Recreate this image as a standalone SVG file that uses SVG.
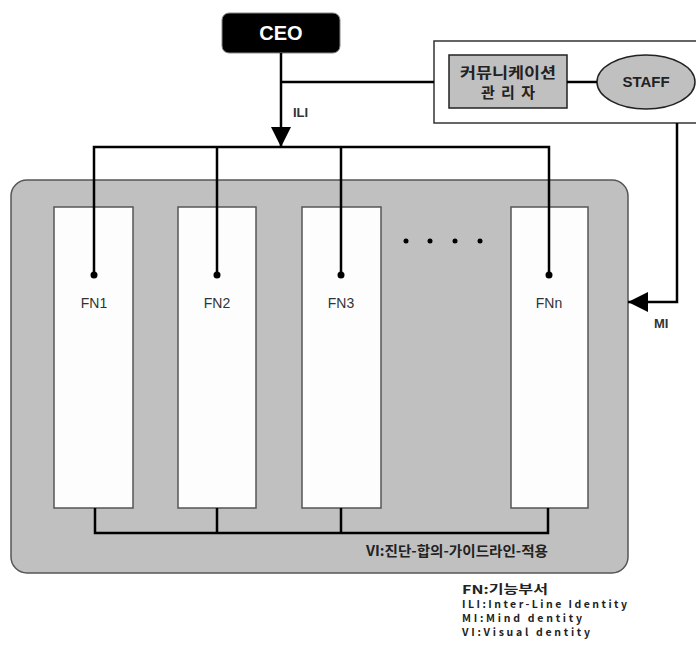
<svg xmlns="http://www.w3.org/2000/svg" width="696" height="650" viewBox="0 0 696 650">
<defs>
<style>
.lat{font-family:"Liberation Sans",Arial,sans-serif;}
.kr{font-family:"Noto Sans CJK KR","Liberation Sans",sans-serif;}
.fn{fill:#fdfdfd;stroke:#555;stroke-width:1.5;}
.fnl{font-size:14px;fill:#333;text-anchor:middle;}
.wire{fill:none;stroke:#000;stroke-width:2.5;}
.legend{font-size:10.5px;fill:#222;font-weight:bold;}
</style>
<marker id="arr" viewBox="0 0 10 10" refX="10" refY="5" markerWidth="20" markerHeight="20" markerUnits="userSpaceOnUse" orient="auto">
<path d="M0,0 L10,5 L0,10 Z" fill="#000"/>
</marker>
</defs>
<rect width="696" height="650" fill="#fff"/>
<g id="panel">
<rect x="11" y="180" width="617" height="393" rx="16" fill="#c0c0c0" stroke="#555" stroke-width="1.5"/>
<text class="kr" x="548" y="556" font-size="14" font-weight="bold" fill="#222" text-anchor="end" textLength="182" lengthAdjust="spacingAndGlyphs">VI:진단-합의-가이드라인-적용</text>
<g fill="#000"><circle cx="406" cy="241" r="2.5"/><circle cx="430" cy="241" r="2.5"/><circle cx="455" cy="241" r="2.5"/><circle cx="480" cy="241" r="2.5"/></g>
</g>
<g id="fn1"><rect class="fn" x="54" y="207" width="79" height="301"/><text class="lat fnl" x="94" y="308">FN1</text></g>
<g id="fn2"><rect class="fn" x="178" y="207" width="78" height="301"/><text class="lat fnl" x="217" y="308">FN2</text></g>
<g id="fn3"><rect class="fn" x="302" y="207" width="79" height="301"/><text class="lat fnl" x="341" y="308">FN3</text></g>
<g id="fnn"><rect class="fn" x="511" y="207" width="77" height="301"/><text class="lat fnl" x="549" y="308">FNn</text></g>
<g id="staffbox">
<rect x="434" y="41" width="270" height="82" fill="#fff" stroke="#333" stroke-width="1.5"/>
</g>
<g id="comm">
<rect x="449" y="55" width="118" height="53" fill="#c0c0c0" stroke="#222" stroke-width="1.5"/>
<text class="kr" x="508" y="78" font-size="15" font-weight="bold" fill="#222" text-anchor="middle" textLength="96" lengthAdjust="spacingAndGlyphs">커뮤니케이션</text>
<text class="kr" x="508" y="98" font-size="15" font-weight="bold" fill="#222" text-anchor="middle" textLength="54" lengthAdjust="spacing">관리자</text>
</g>
<g id="staff">
<ellipse cx="646" cy="82" rx="49" ry="27" fill="#c0c0c0" stroke="#222" stroke-width="1.5"/>
<text class="lat" x="646" y="87" font-size="15" font-weight="bold" fill="#222" text-anchor="middle">STAFF</text>
</g>
<g id="ceo">
<rect x="222" y="13" width="118" height="40" rx="7" fill="#000" stroke="#888" stroke-width="1"/>
<text class="lat" x="281" y="40" font-size="20" font-weight="bold" fill="#fff" text-anchor="middle">CEO</text>
</g>
<g id="connectors">
<path class="wire" d="M281,53 V147" marker-end="url(#arr)"/>
<path class="wire" d="M281,82 H434"/>
<path class="wire" d="M567,82 H597" stroke-width="2"/>
<path class="wire" d="M94,275 V147 H549 V275 M217,147 V275 M341,147 V275"/>
<g fill="#000"><circle cx="94" cy="275" r="3.5"/><circle cx="217" cy="275" r="3.5"/><circle cx="341" cy="275" r="3.5"/><circle cx="549" cy="275" r="3.5"/></g>
<path class="wire" d="M95,508 V533 H548 V508 M217,508 V533 M341,508 V533"/>
<path class="wire" d="M677,123 V302 H628" marker-end="url(#arr)"/>
<text class="lat" x="293" y="117" font-size="13" font-weight="bold" fill="#333">ILI</text>
<text class="lat" x="654" y="328" font-size="13" font-weight="bold" fill="#333">MI</text>
</g>
<g id="legend" class="kr legend">
<text x="462" y="594" font-size="12" textLength="86" lengthAdjust="spacingAndGlyphs">FN:기능부서</text>
<text x="462" y="608" textLength="165" lengthAdjust="spacing">ILI:Inter-Line Identity</text>
<text x="462" y="622" textLength="120" lengthAdjust="spacing">MI:Mind dentity</text>
<text x="462" y="636" textLength="128" lengthAdjust="spacing">VI:Visual dentity</text>
</g>
</svg>
